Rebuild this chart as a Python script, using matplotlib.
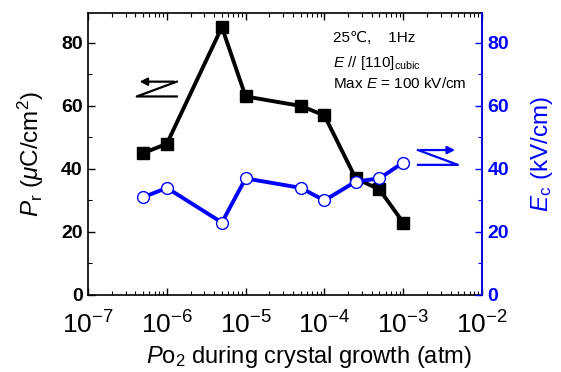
import numpy as np
import matplotlib
matplotlib.use("Agg")
import matplotlib.pyplot as plt
from matplotlib.ticker import LogLocator, MultipleLocator, NullFormatter

plt.rcParams['font.family'] = ['Liberation Sans', 'DejaVu Sans']
plt.rcParams['mathtext.fontset'] = 'custom'
plt.rcParams['mathtext.rm'] = 'Liberation Sans'
plt.rcParams['mathtext.it'] = 'Liberation Sans:italic'
plt.rcParams['mathtext.bf'] = 'Liberation Sans:bold'

# data
po2 = [5e-7, 1e-6, 5e-6, 1e-5, 5e-5, 1e-4, 2.5e-4, 5e-4, 1e-3]
pr = [45, 48, 85, 63, 60, 57, 37, 33.5, 23]
ec = [31, 34, 23, 37, 34, 30, 36, 37, 42]

blue = '#0000ff'

fig = plt.figure(figsize=(5.61, 3.72), dpi=100)
ax = fig.add_axes([0.157, 0.207, 0.702, 0.759])
ax2 = ax.twinx()

ax.plot(po2, pr, '-s', color='black', lw=2.8, ms=8.5, zorder=3)
ax2.plot(po2, ec, '-o', color=blue, lw=2.8, ms=8.5, mfc='white', mec=blue, mew=1.0, zorder=3)

ax.set_xscale('log')
ax.set_xlim(1e-7, 1e-2)
ax.set_ylim(0, 89.6)
ax2.set_ylim(0, 89.6)

ax.xaxis.set_major_locator(LogLocator(base=10, numticks=10))
ax.xaxis.set_minor_locator(LogLocator(base=10, subs=np.arange(2, 10), numticks=10))
ax.xaxis.set_minor_formatter(NullFormatter())
for a in (ax, ax2):
    a.yaxis.set_major_locator(MultipleLocator(20))
    a.yaxis.set_minor_locator(MultipleLocator(10))

ax.tick_params(axis='x', which='both', direction='in', top=True, labelsize=19, pad=12)
ax.tick_params(axis='x', which='major', length=5, width=1)
ax.tick_params(axis='x', which='minor', length=3, width=0.8)
ax.tick_params(axis='y', which='both', direction='in', right=False, labelsize=14, pad=4)
ax.tick_params(axis='y', which='major', length=5, width=1)
ax.tick_params(axis='y', which='minor', length=3, width=0.8)
ax2.tick_params(axis='y', which='both', direction='in', colors=blue, labelsize=14, pad=4)
ax2.tick_params(axis='y', which='major', length=5, width=1)
ax2.tick_params(axis='y', which='minor', length=3, width=0.8)
for lab in ax.get_yticklabels() + ax2.get_yticklabels():
    lab.set_fontweight('bold')

for s in ax.spines.values():
    s.set_linewidth(1.2)
ax2.spines['right'].set_color(blue)
ax2.spines['right'].set_linewidth(1.2)
ax2.spines['left'].set_visible(False)
ax2.spines['top'].set_visible(False)
ax2.spines['bottom'].set_visible(False)

ax.set_xlabel('$P$o$_2$ during crystal growth (atm)', fontsize=17)
ax.xaxis.set_label_coords(0.56, -0.172)
ax.set_ylabel('$P_{\\mathrm{r}}$ ($\\mu$C/cm$^2$)', fontsize=17.5, labelpad=11)
ax2.set_ylabel('$E_{\\mathrm{c}}$ (kV/cm)', fontsize=17.5, color=blue, labelpad=14)

ax.text(0.622, 0.935, '25\u2103,    1Hz', transform=ax.transAxes, fontsize=11, va='top')
ax.text(0.622, 0.855, '$E$ $//$ [110]$_{\\mathrm{cubic}}$', transform=ax.transAxes, fontsize=11, va='top')
ax.text(0.622, 0.775, 'Max $E$ = 100 kV/cm', transform=ax.transAxes, fontsize=11, va='top')

# axis-pointer symbols
ax.plot([10**-5.874, 10**-6.382, 10**-5.874], [67.7, 63.0, 63.0], color='black', lw=1.6)
ax.annotate('', xy=(10**-6.382, 67.7), xytext=(10**-5.874, 67.7),
            arrowprops=dict(arrowstyle='-|>', color='black', lw=1.6, mutation_scale=11))
ax2.plot([10**-2.812, 10**-2.305, 10**-2.812], [46.0, 41.3, 41.3], color=blue, lw=1.6)
ax2.annotate('', xy=(10**-2.305, 46.0), xytext=(10**-2.812, 46.0),
             arrowprops=dict(arrowstyle='-|>', color=blue, lw=1.6, mutation_scale=11))

fig.savefig('out.png', dpi=100)
